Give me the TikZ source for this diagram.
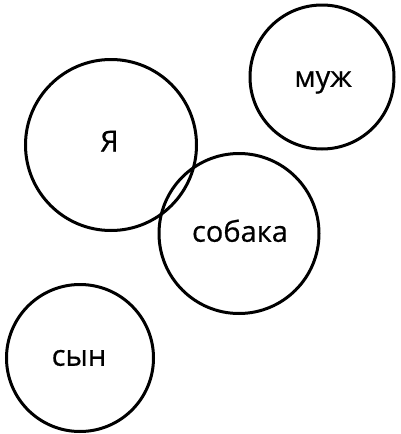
\documentclass[tikz,border=0pt]{standalone}
\usepackage{fontspec}
\setmainfont{Open Sans}
\newfontfamily\lblfont[FakeBold=0.6]{Open Sans}
\begin{document}
\begin{tikzpicture}[x=1pt,y=-1pt,
  ring/.style={draw=black, line width=3pt, circle, inner sep=0pt},
  lbl/.style={font=\lblfont\fontsize{29}{29}\selectfont, inner sep=0pt, text height=15.5pt, text depth=0pt}]
\useasboundingbox (0,0) rectangle (400,434);
\node[ring, minimum size=171pt] (cya) at (111,145) {};
\node[ring, minimum size=144pt] (cmuzh) at (322,77) {};
\node[ring, minimum size=160pt] (csob) at (239,233.5) {};
\node[ring, minimum size=147pt] (csyn) at (80,358) {};
\node[lbl, text height=21pt] (tya) at (109.5,141) {Я};
\node[lbl] (tmuzh) at (323,79) {муж};
\node[lbl] (tsob) at (240,234) {собака};
\node[lbl] (tsyn) at (79,358) {сын};
\end{tikzpicture}
\end{document}
